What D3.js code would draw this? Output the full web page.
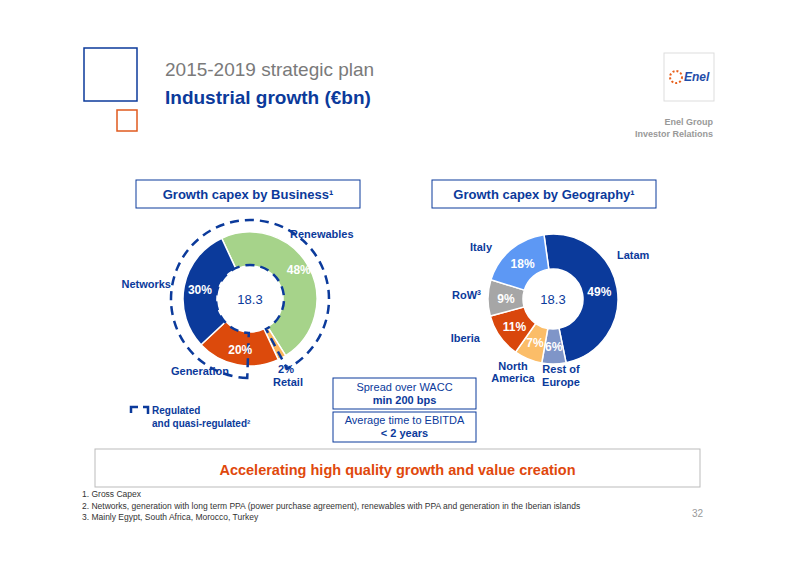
<!DOCTYPE html>
<html><head><meta charset="utf-8">
<script src="https://cdn.jsdelivr.net/npm/d3@7"></script>
<style>body{margin:0;background:#fff}text{font-family:Arial,"Liberation Sans",sans-serif}</style>
</head><body><svg id="chart"></svg>
<script>
const businessNames = ['Renewables', 'Retail', 'Generation', 'Networks'];
const businessValues = [48, 2, 20, 30];
const businessColors = ['#a6d38a', '#fbb65e', '#dc4a0c', '#0b3a9b'];
const geoNames = ['Latam', 'Rest of Europe', 'North America', 'Iberia', 'RoW', 'Italy'];
const geoValues = [49, 6, 7, 11, 9, 18];
const geoColors = ['#0b3a9b', '#7f95c8', '#fbbd68', '#d9470c', '#a6a6a6', '#5d98f4'];
const total = '18.3';
const footnotes = ['1.   Gross Capex',
  '2.   Networks, generation with long term PPA (power purchase agreement), renewables with PPA and generation in the Iberian islands',
  '3.   Mainly Egypt, South Africa, Morocco, Turkey'];

const blue = '#0b3a9b';
const rad = Math.PI / 180;
const svg = d3.select('#chart').attr('width', 800).attr('height', 565);

// header
svg.append('rect').attr('x', 84).attr('y', 48).attr('width', 53).attr('height', 53)
  .attr('fill', 'none').attr('stroke', blue).attr('stroke-width', 1.5);
svg.append('rect').attr('x', 117).attr('y', 110).attr('width', 20).attr('height', 21)
  .attr('fill', 'none').attr('stroke', '#e05a1e').attr('stroke-width', 1.5);
svg.append('text').attr('x', 165).attr('y', 76).attr('font-size', 19).attr('fill', '#7a7a7a').text('2015-2019 strategic plan');
svg.append('text').attr('x', 165).attr('y', 104).attr('font-size', 19).attr('font-weight', 'bold').attr('fill', blue).text('Industrial growth (€bn)');
svg.append('rect').attr('x', 664).attr('y', 53).attr('width', 50).attr('height', 48).attr('fill', '#fff').attr('stroke', '#ddd');
svg.append('circle').attr('cx', 676).attr('cy', 77).attr('r', 6).attr('fill', 'none').attr('stroke', '#e8601c').attr('stroke-width', 2).attr('stroke-dasharray', '2 2');
svg.append('text').attr('x', 684).attr('y', 81).attr('font-size', 12).attr('font-weight', 'bold').attr('font-style', 'italic').attr('fill', '#1f4da8').text('Enel');
svg.append('text').attr('x', 713).attr('y', 125).attr('text-anchor', 'end').attr('font-size', 9).attr('font-weight', 'bold').attr('fill', '#999').text('Enel Group');
svg.append('text').attr('x', 713).attr('y', 137).attr('text-anchor', 'end').attr('font-size', 9).attr('font-weight', 'bold').attr('fill', '#999').text('Investor Relations');

function box(x, y, w, h, lines, opts) {
  svg.append('rect').attr('x', x).attr('y', y).attr('width', w).attr('height', h)
    .attr('fill', '#fff').attr('stroke', opts.stroke || blue).attr('stroke-width', 1);
  lines.forEach((l, i) => {
    svg.append('text').attr('x', x + w / 2).attr('y', y + opts.y0 + i * 13).attr('text-anchor', 'middle')
      .attr('font-size', opts.size).attr('font-weight', l.bold ? 'bold' : 'normal')
      .attr('fill', opts.color || blue).text(l.t);
  });
}
box(136, 180, 224, 28, [{t: 'Growth capex by Business¹', bold: true}], {y0: 19, size: 13});
box(432, 180, 224, 28, [{t: 'Growth capex by Geography¹', bold: true}], {y0: 19, size: 13});
box(333, 378, 143, 31, [{t: 'Spread over WACC'}, {t: 'min 200 bps', bold: true}], {y0: 13, size: 11});
box(333, 412, 143, 30, [{t: 'Average time to EBITDA'}, {t: '< 2 years', bold: true}], {y0: 12, size: 11});
box(95, 449, 605, 38, [{t: 'Accelerating high quality growth and value creation', bold: true}], {y0: 26, size: 14.5, color: '#e0480c', stroke: '#bbb'});

function donut(cx, cy, ro, ri, start, values, colors) {
  const g = svg.append('g').attr('transform', `translate(${cx},${cy})`);
  const pie = d3.pie().sort(null).value(d => d).startAngle(start * rad).endAngle(start * rad + 2 * Math.PI);
  const arcs = pie(values);
  const arc = d3.arc().innerRadius(ri).outerRadius(ro);
  g.selectAll('path').data(arcs).enter().append('path').attr('d', arc)
    .attr('fill', (d, i) => colors[i]).attr('stroke', '#fff').attr('stroke-width', 1.5);
  return {g, arcs, arc};
}

// business donut
const b = donut(250, 299, 67, 33, -25, businessValues, businessColors);
const dash = d3.arc().innerRadius(34).outerRadius(79).startAngle(-178 * rad).endAngle(152 * rad);
b.g.append('path').attr('d', dash()).attr('fill', 'none').attr('stroke', blue).attr('stroke-width', 2.5).attr('stroke-dasharray', '9 6');
b.g.append('text').attr('y', 5).attr('text-anchor', 'middle').attr('font-size', 13).attr('fill', blue).text(total);
const bLab = d3.arc().innerRadius(51).outerRadius(51);
b.arcs.forEach((d, i) => {
  if (businessValues[i] < 5) return;
  const [x, y] = bLab.centroid(d);
  b.g.append('text').attr('x', x + (i === 0 ? 4 : 0)).attr('y', y - (i === 0 ? 6 : 0) + 5).attr('text-anchor', 'middle')
    .attr('font-size', 12).attr('font-weight', 'bold').attr('fill', '#fff').text(businessValues[i] + '%');
});
const lbl = (x, y, t, a, s) => svg.append('text').attr('x', x).attr('y', y).attr('text-anchor', a || 'middle')
  .attr('font-size', s || 11).attr('font-weight', 'bold').attr('fill', blue).text(t);
lbl(290, 238, businessNames[0], 'start');
lbl(286, 373, businessValues[1] + '%');
lbl(288, 386, businessNames[1]);
lbl(200, 375, businessNames[2]);
lbl(171, 288, businessNames[3], 'end');
// legend
svg.append('path').attr('d', 'M131,413 v-6 h7 M143,407 h5 v7').attr('fill', 'none').attr('stroke', blue).attr('stroke-width', 2.5);
lbl(152, 414, 'Regulated', 'start', 10);
lbl(152, 427, 'and quasi-regulated²', 'start', 10);

// geography donut
const gd = donut(553, 299, 65, 30, -8, geoValues, geoColors);
gd.g.append('text').attr('y', 5).attr('text-anchor', 'middle').attr('font-size', 13).attr('fill', blue).text(total);
const gLab = d3.arc().innerRadius(47).outerRadius(47);
gd.arcs.forEach((d, i) => {
  const [x, y] = gLab.centroid(d);
  gd.g.append('text').attr('x', x).attr('y', y + 5).attr('text-anchor', 'middle')
    .attr('font-size', 12).attr('font-weight', 'bold').attr('fill', '#fff').text(geoValues[i] + '%');
});
lbl(617, 259, geoNames[0], 'start');
lbl(561, 373, 'Rest of');
lbl(561, 386, 'Europe');
lbl(513, 370, 'North');
lbl(513, 382, 'America');
lbl(480, 342, geoNames[3], 'end');
svg.append('text').attr('x', 481).attr('y', 299).attr('text-anchor', 'end').attr('font-size', 11).attr('font-weight', 'bold').attr('fill', blue)
  .text('RoW').append('tspan').attr('font-size', 7).attr('dy', -4).text('3');
lbl(492, 251, geoNames[5], 'end');

// footnotes
footnotes.forEach((f, i) => {
  svg.append('text').attr('x', 82).attr('y', 497 + i * 11.5).attr('font-size', 8.5).attr('fill', '#333').text(f);
});
svg.append('text').attr('x', 703).attr('y', 517).attr('text-anchor', 'end').attr('font-size', 10).attr('fill', '#999').text('32');
</script></body></html>
